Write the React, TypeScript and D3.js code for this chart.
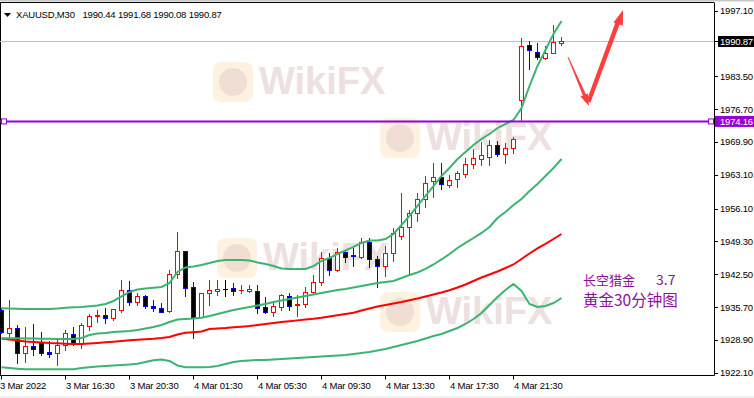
import React from "react";
import * as d3 from "d3";

// XAUUSD M30 candles
const open = [1935.09, 1930.39, 1931.30, 1926.12, 1927.64, 1928.20, 1926.46, 1926.25, 1927.84, 1930.06,
  1928.20, 1931.84, 1933.79, 1934.06, 1933.37, 1935.09, 1939.24, 1936.69, 1937.99, 1935.92,
  1935.45, 1934.95, 1942.49, 1947.32, 1939.92, 1933.71, 1938.55, 1939.09, 1939.38, 1939.59,
  1939.17, 1939.09, 1939.09, 1935.65, 1934.62, 1935.78, 1938.06, 1936.13, 1936.28, 1938.76,
  1940.83, 1945.81, 1943.38, 1947.17, 1946.43, 1946.14, 1949.24, 1945.60, 1944.27, 1946.84,
  1950.43, 1952.35, 1955.13, 1958.03, 1961.82, 1962.71, 1960.99, 1962.17, 1963.27, 1965.28,
  1966.38, 1966.86, 1969.28, 1967.35, 1968.60, 1978.60, 1990.00, 1988.61, 1987.24, 1988.28, 1990.44];
const high = [1935.51, 1937.17, 1931.99, 1931.64, 1932.19, 1930.47, 1928.67, 1929.23, 1930.95, 1931.64,
  1932.34, 1934.33, 1935.09, 1935.51, 1935.30, 1941.31, 1941.10, 1938.55, 1938.20, 1937.17,
  1936.48, 1943.38, 1951.19, 1947.32, 1940.96, 1938.61, 1941.31, 1941.31, 1941.31, 1940.63,
  1940.27, 1940.27, 1940.27, 1937.73, 1936.48, 1938.41, 1938.55, 1938.20, 1939.92, 1942.35,
  1947.17, 1946.97, 1947.88, 1947.52, 1947.88, 1949.95, 1950.07, 1946.28, 1948.35, 1952.02,
  1959.33, 1955.81, 1959.27, 1962.86, 1965.61, 1965.49, 1963.06, 1963.95, 1966.52, 1968.39,
  1969.96, 1970.31, 1970.17, 1969.76, 1970.87, 1991.39, 1990.89, 1990.35, 1989.79, 1994.14, 1991.68];
const low = [1930.33, 1929.56, 1924.11, 1924.38, 1925.77, 1925.77, 1925.42, 1923.70, 1926.81, 1927.84,
  1927.28, 1930.95, 1932.67, 1932.34, 1933.02, 1934.62, 1936.13, 1936.13, 1935.45, 1934.89,
  1934.62, 1934.74, 1941.66, 1938.06, 1929.36, 1933.64, 1936.13, 1938.20, 1937.99, 1938.20,
  1938.55, 1938.89, 1934.54, 1934.41, 1933.91, 1935.09, 1935.09, 1933.85, 1935.78, 1938.41,
  1940.27, 1942.35, 1943.24, 1945.10, 1944.21, 1945.93, 1943.94, 1939.80, 1942.14, 1945.31,
  1949.74, 1942.70, 1953.60, 1956.50, 1958.57, 1960.10, 1960.64, 1960.64, 1962.71, 1964.45,
  1965.14, 1965.14, 1967.06, 1965.49, 1967.68, 1974.46, 1984.96, 1987.03, 1987.03, 1988.28, 1990.08];
const close = [1930.60, 1931.30, 1926.12, 1927.70, 1927.08, 1926.25, 1926.04, 1927.84, 1930.27, 1927.99,
  1931.99, 1933.85, 1934.06, 1933.37, 1935.24, 1939.24, 1936.69, 1937.99, 1935.99, 1935.45,
  1934.74, 1942.55, 1947.32, 1939.59, 1933.58, 1938.55, 1939.24, 1939.38, 1939.38, 1939.09,
  1939.30, 1939.44, 1935.45, 1934.62, 1935.92, 1938.20, 1935.99, 1936.28, 1938.76, 1940.96,
  1945.81, 1943.38, 1947.17, 1946.14, 1946.28, 1949.24, 1945.60, 1944.27, 1946.84, 1950.98,
  1952.23, 1955.13, 1958.03, 1961.47, 1962.71, 1961.14, 1962.03, 1963.54, 1965.28, 1966.52,
  1967.21, 1969.28, 1967.41, 1968.60, 1970.46, 1989.79, 1988.96, 1987.45, 1988.28, 1990.56, 1990.87];

// Bollinger bands + slow MA
const bandUpper = [1935.45, 1935.40, 1935.36, 1935.30, 1935.30, 1935.30, 1935.30, 1935.40, 1935.57, 1935.65,
  1935.72, 1935.86, 1936.03, 1936.34, 1936.96, 1937.89, 1938.82, 1939.34, 1939.55, 1939.71,
  1939.86, 1940.69, 1942.97, 1943.90, 1944.11, 1944.42, 1944.83, 1945.25, 1945.45, 1945.45,
  1945.45, 1945.35, 1944.94, 1944.62, 1944.21, 1943.69, 1943.59, 1943.59, 1943.59, 1944.21,
  1945.25, 1945.87, 1946.70, 1947.42, 1948.15, 1948.98, 1949.49, 1949.49, 1949.80, 1950.84,
  1952.70, 1954.57, 1956.64, 1958.71, 1960.78, 1962.86, 1964.51, 1966.38, 1967.83, 1969.28,
  1970.52, 1971.56, 1972.80, 1973.63, 1974.46, 1976.94, 1981.50, 1985.65, 1988.96, 1992.28, 1994.97];
const bandMiddle = [1929.23, 1929.23, 1929.23, 1929.19, 1929.19, 1929.15, 1929.15, 1929.09, 1929.09, 1929.09,
  1929.29, 1929.91, 1930.23, 1930.33, 1930.54, 1930.64, 1930.74, 1930.95, 1931.26, 1931.57,
  1931.99, 1932.61, 1933.13, 1933.23, 1933.33, 1933.50, 1933.85, 1934.27, 1934.68, 1935.09,
  1935.40, 1935.72, 1936.03, 1936.34, 1936.75, 1937.06, 1937.37, 1937.68, 1937.99, 1938.31,
  1938.62, 1938.93, 1939.24, 1939.44, 1939.76, 1940.07, 1940.38, 1940.69, 1940.90, 1941.10,
  1941.72, 1942.35, 1942.86, 1943.59, 1944.52, 1945.56, 1946.70, 1947.94, 1948.98, 1950.01,
  1951.05, 1952.29, 1954.15, 1955.40, 1956.85, 1958.09, 1959.75, 1961.20, 1962.86, 1964.51, 1966.38];
const bandLower = [1923.22, 1923.08, 1922.93, 1922.81, 1922.81, 1922.81, 1922.81, 1922.81, 1922.81, 1922.81,
  1923.08, 1923.22, 1923.39, 1923.49, 1923.60, 1923.70, 1923.80, 1923.97, 1924.32, 1924.67,
  1924.84, 1924.53, 1923.60, 1923.22, 1923.22, 1923.22, 1923.28, 1923.49, 1923.91, 1924.32,
  1924.53, 1924.63, 1924.74, 1924.74, 1924.84, 1924.94, 1925.05, 1925.15, 1925.25, 1925.36,
  1925.46, 1925.56, 1925.67, 1925.77, 1925.98, 1926.19, 1926.39, 1926.70, 1927.01, 1927.43,
  1927.84, 1928.26, 1928.67, 1929.19, 1929.71, 1930.12, 1930.74, 1931.36, 1932.19, 1933.23,
  1934.47, 1936.13, 1937.79, 1939.24, 1940.48, 1939.03, 1936.34, 1935.72, 1935.92, 1936.54, 1937.58];
const maRed = [1929.19, 1928.98, 1928.78, 1928.57, 1928.46, 1928.36, 1928.26, 1928.20, 1928.11, 1928.05,
  1928.05, 1928.15, 1928.26, 1928.40, 1928.53, 1928.67, 1928.82, 1928.94, 1929.02, 1929.13,
  1929.29, 1929.50, 1930.02, 1930.37, 1930.50, 1930.64, 1931.16, 1931.26, 1931.36, 1931.51,
  1931.63, 1931.78, 1931.99, 1932.19, 1932.40, 1932.61, 1932.77, 1932.94, 1933.11, 1933.27,
  1933.48, 1933.75, 1934.00, 1934.27, 1934.54, 1934.99, 1935.40, 1935.82, 1936.13, 1936.44,
  1936.75, 1937.12, 1937.48, 1937.89, 1938.31, 1938.72, 1939.18, 1939.76, 1940.38, 1941.10,
  1941.83, 1942.45, 1943.07, 1943.80, 1944.52, 1945.66, 1946.80, 1947.84, 1948.77, 1949.80, 1950.84];

const priceTicks = [1997.10, 1983.50, 1976.70, 1969.90, 1963.10, 1956.10, 1949.30, 1942.50, 1935.70, 1928.90, 1922.10];
const timeTickIndex = [0, 8, 16, 24, 32, 40, 48, 56, 64];
const timeTickLabels = ["3 Mar 2022", "3 Mar 16:30", "3 Mar 20:30", "4 Mar 01:30", "4 Mar 05:30",
  "4 Mar 09:30", "4 Mar 13:30", "4 Mar 17:30", "4 Mar 21:30"];
const symbol = "XAUUSD,M30";
const levelPrice = 1974.16;
const noteTitle = "长空猎金";
const noteDate = "3.7";
const noteSub = "黄金30分钟图";

const font = "'Liberation Sans', Arial, sans-serif";
const cjk = "'Noto Sans CJK SC', sans-serif";
const axisX = 714;
const axisY = 375.5;
const green = "#3cb371";
const purple = "#9400d3";

function Watermark({ x0, y0 }: { x0: number; y0: number }) {
  return (
    <g>
      <rect x={x0} y={y0} width={40} height={40} rx={8} fill="#fcecd6" opacity={0.75} />
      <circle cx={x0 + 20} cy={y0 + 20} r={14} fill="#ecd8cf" opacity={0.8} />
      <text x={x0 + 46} y={y0 + 32} fontFamily={font} fontWeight="bold" fontSize={38}
        fill="#ece0e0">WikiFX</text>
    </g>
  );
}

export default function App() {
  const n = open.length;
  const x = d3.scaleLinear().domain([0, n - 1]).range([1.5, 561.5]);
  const y = d3.scaleLinear().domain([1922.1, 1997.1]).range([372.7, 10.7]);
  const line = d3.line<number>().x((_, i) => x(i)).y(d => y(d));
  const last = n - 1;
  const ohlc = [open[last], high[last], low[last], close[last]].map(v => v.toFixed(2)).join(" ");

  const candles = open.map((o, i) => {
    const c = close[i];
    const cx = x(i);
    const bull = c > o;
    const bear = c < o;
    const col = bull ? "#ff0000" : bear ? "#0000ff" : "#000000";
    const top = Math.round(y(Math.max(o, c)));
    const bot = Math.round(y(Math.min(o, c)));
    const yh = Math.round(y(high[i]));
    const yl = Math.round(y(low[i]));
    return (
      <g key={i}>
        <line x1={cx} x2={cx} y1={yh} y2={yl + 1} stroke={col} strokeWidth={1} />
        {bot - top < 1 ? (
          <line x1={cx - 2.5} x2={cx + 2.5} y1={top + 0.5} y2={top + 0.5} stroke={col} strokeWidth={1} />
        ) : (
          <rect x={cx - 2} y={top + 0.5} width={4} height={bot - top} fill={bull ? "#ffffff" : "#000000"}
            stroke={col} strokeWidth={1} />
        )}
      </g>
    );
  });

  const yLast = Math.round(y(close[last])) + 0.5;
  const yLevel = y(levelPrice);
  const lbl = { fontFamily: font, fontSize: 9.5, letterSpacing: -0.2 };

  return (
    <svg width={754} height={398} style={{ position: "fixed", left: 0, top: 0 }}>
      <rect x={0} y={0} width={754} height={398} fill="#ffffff" />
      <rect x={0} y={0} width={754} height={1.5} fill="#c8c8c8" />
      <rect x={0} y={396} width={754} height={2} fill="#f0f0f0" />

      {[[213, 62], [380, 118], [217, 238], [380, 292]].map(([a, b], i) => (
        <Watermark key={i} x0={a} y0={b} />
      ))}

      {/* frame */}
      <line x1={0} x2={axisX} y1={2.5} y2={2.5} stroke="#000" />
      <line x1={0.5} x2={0.5} y1={2.5} y2={axisY} stroke="#000" />
      <line x1={axisX + 0.5} x2={axisX + 0.5} y1={2.5} y2={axisY} stroke="#000" />
      <line x1={0} x2={axisX + 0.5} y1={axisY} y2={axisY} stroke="#000" />

      {/* header */}
      <polygon points="4,13 11,13 7.5,17" fill="#000" />
      <text x={16} y={17.5} {...lbl} fill="#000">{symbol}</text>
      <text x={82.5} y={17.5} {...lbl} fill="#000">{ohlc}</text>

      {/* current price line */}
      <line x1={0} x2={axisX} y1={yLast} y2={yLast} stroke="#c0c0c0" strokeWidth={1} />

      {candles}

      {/* indicators */}
      <path d={line(maRed) ?? ""} fill="none" stroke="#ff0000" strokeWidth={2} />
      <path d={line(bandLower) ?? ""} fill="none" stroke={green} strokeWidth={2} />
      <path d={line(bandMiddle) ?? ""} fill="none" stroke={green} strokeWidth={2} />
      <path d={line(bandUpper) ?? ""} fill="none" stroke={green} strokeWidth={2} />

      {/* horizontal level */}
      <line x1={0} x2={axisX} y1={yLevel} y2={yLevel} stroke={purple} strokeWidth={2} />
      <rect x={1.5} y={yLevel - 2.5} width={5} height={5} fill="#fff" stroke={purple} strokeWidth={1} />
      <rect x={708.5} y={yLevel - 2.5} width={5} height={5} fill="#fff" stroke={purple} strokeWidth={1} />

      {/* hand-drawn arrows */}
      <g fill="#ff2a2a" opacity={0.9}>
        <polygon points="567.5,57 568.5,57 589,101 585.5,102" />
        <polygon points="589,106 580.5,96.6 587.9,93.4" />
        <polygon points="586.5,101 590.5,102.5 620.5,22 616,21" />
        <polygon points="623,10 613.5,22.4 622.9,25.8" />
      </g>

      {/* price axis */}
      {priceTicks.map(p => (
        <g key={p}>
          <line x1={axisX + 1} x2={axisX + 4} y1={Math.round(y(p)) + 0.5} y2={Math.round(y(p)) + 0.5} stroke="#000" />
          <text x={720} y={y(p) + 3.5} {...lbl} fill="#000">{p.toFixed(2)}</text>
        </g>
      ))}
      <rect x={718} y={yLast - 5.5} width={36} height={11} fill="#000" />
      <line x1={axisX + 1} x2={718} y1={yLast} y2={yLast} stroke="#000" />
      <text x={720} y={yLast + 3.5} {...lbl} fill="#fff">{close[last].toFixed(2)}</text>
      <rect x={715} y={yLevel - 5.5} width={39} height={11} fill={purple} />
      <text x={720} y={yLevel + 3.5} {...lbl} fill="#fff">{levelPrice.toFixed(2)}</text>

      {/* time axis */}
      {timeTickIndex.map((t, i) => (
        <g key={t}>
          <line x1={x(t)} x2={x(t)} y1={axisY} y2={axisY + 4} stroke="#000" />
          <text x={i === 0 ? 0 : x(t) + 0.5} y={389} {...lbl} fill="#000">{timeTickLabels[i]}</text>
        </g>
      ))}

      {/* note */}
      <text x={583} y={285} fontFamily={cjk} fontSize={13} fill="#8a0f9a">{noteTitle}</text>
      <text x={656} y={285} fontFamily={cjk} fontSize={14} fill="#8a0f9a">{noteDate}</text>
      <text x={583} y={306} fontFamily={cjk} fontSize={15.5} fill="#8a0f9a">{noteSub}</text>
    </svg>
  );
}
